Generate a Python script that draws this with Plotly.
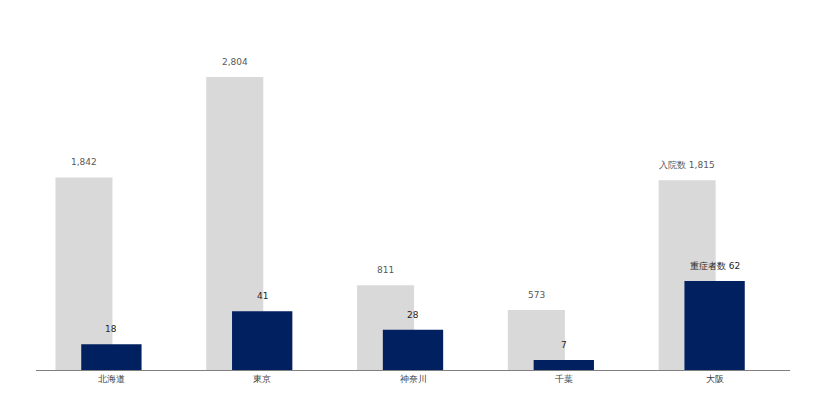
import plotly.graph_objects as go

categories = ["北海道", "東京", "神奈川", "千葉", "大阪"]
hospitalized = [1842, 2804, 811, 573, 1815]
severe = [18, 41, 28, 7, 62]
hosp_labels = ["1,842", "2,804", "811", "573", "入院数 1,815"]
severe_labels = ["18", "41", "28", "7", "重症者数 62"]

GRAY = "#d9d9d9"
NAVY = "#002060"
FONT = "DejaVu Sans"

idx = list(range(len(categories)))
gray_off = -0.182
gray_w = 0.378
navy_w = 0.4

fig = go.Figure()
fig.add_trace(go.Bar(
    x=[i + gray_off for i in idx], y=hospitalized, width=gray_w,
    marker=dict(color=GRAY, line=dict(width=0)), name="入院数",
    yaxis="y", hoverinfo="skip"))
fig.add_trace(go.Bar(
    x=idx, y=severe, width=navy_w,
    marker=dict(color=NAVY, line=dict(width=0)), name="重症者数",
    yaxis="y2", hoverinfo="skip"))

annotations = []
for i, v, t in zip(idx, hospitalized, hosp_labels):
    annotations.append(dict(x=i + gray_off, y=v, xref="x", yref="y", text=t,
                            showarrow=False, yanchor="bottom", yshift=8,
                            font=dict(family=FONT, size=9, color="#595959")))
for i, v, t in zip(idx, severe, severe_labels):
    annotations.append(dict(x=i, y=v, xref="x", yref="y2", text=t,
                            showarrow=False, yanchor="bottom", yshift=8,
                            font=dict(family=FONT, size=9, color="#262626")))

fig.update_layout(
    width=806, height=408,
    margin=dict(l=28, r=24, t=12, b=46),
    paper_bgcolor="white", plot_bgcolor="white",
    barmode="overlay", showlegend=False,
    font=dict(family=FONT, size=9, color="#404040"),
    xaxis=dict(range=[-0.5, 4.5], tickvals=idx, ticktext=categories,
               showline=True, linecolor="#7f7f7f", linewidth=1,
               showgrid=False, zeroline=False, ticks="",
               tickfont=dict(family=FONT, size=9, color="#404040")),
    yaxis=dict(range=[0, 3349], visible=False, showgrid=False),
    yaxis2=dict(range=[0, 243.9], overlaying="y", visible=False, showgrid=False),
    annotations=annotations,
)

fig.write_html("out.html")
